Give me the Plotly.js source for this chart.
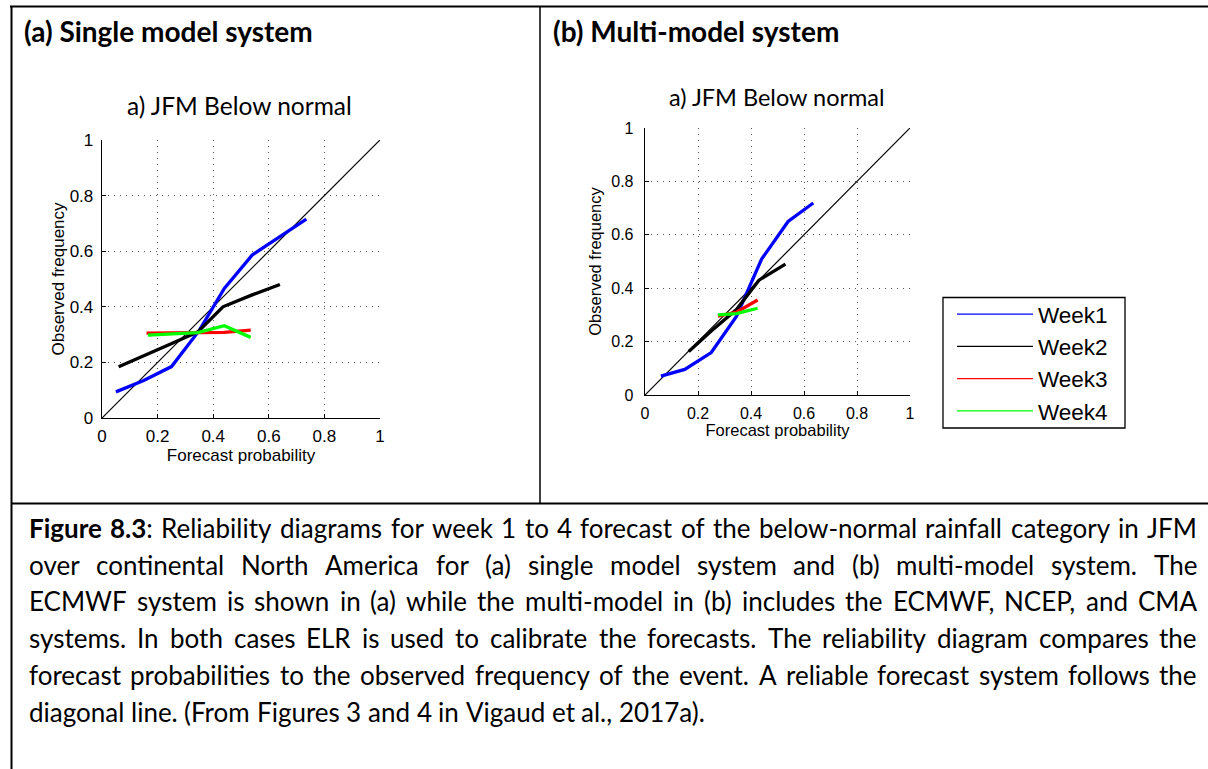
<!DOCTYPE html>
<html><head><meta charset="utf-8">
<script src="https://cdn.plot.ly/plotly-3.0.1.min.js"></script>
<style>html,body{margin:0;padding:0;background:#fff;} #chart{width:1208px;height:769px;}</style>
</head><body><div id="chart"></div>
<script>
// ---------- data ----------
const seriesNames = ['Week1', 'Week2', 'Week3', 'Week4'];
const seriesColors = ['#0000ff', '#000000', '#ff0000', '#00ff00'];

// panel (a) single model system
const aWeek1X = [0.05, 0.15, 0.25, 0.35, 0.44, 0.54, 0.64, 0.735];
const aWeek1Y = [0.094, 0.135, 0.185, 0.315, 0.466, 0.586, 0.652, 0.715];
const aWeek2X = [0.06, 0.15, 0.255, 0.345, 0.435, 0.54, 0.64];
const aWeek2Y = [0.184, 0.225, 0.27, 0.31, 0.40, 0.443, 0.48];
const aWeek3X = [0.16, 0.26, 0.35, 0.44, 0.535];
const aWeek3Y = [0.305, 0.307, 0.308, 0.308, 0.316];
const aWeek4X = [0.165, 0.26, 0.345, 0.44, 0.535];
const aWeek4Y = [0.298, 0.304, 0.307, 0.332, 0.29];

// panel (b) multi-model system
const bWeek1X = [0.06, 0.15, 0.25, 0.345, 0.44, 0.54, 0.635];
const bWeek1Y = [0.071, 0.096, 0.159, 0.294, 0.509, 0.65, 0.719];
const bWeek2X = [0.165, 0.25, 0.345, 0.43, 0.53];
const bWeek2Y = [0.163, 0.24, 0.32, 0.43, 0.49];
const bWeek3X = [0.275, 0.345, 0.425];
const bWeek3Y = [0.295, 0.31, 0.356];
const bWeek4X = [0.275, 0.345, 0.425];
const bWeek4Y = [0.30, 0.305, 0.325];

// perfect reliability diagonal
const diagX = [0, 1];
const diagY = [0, 1];

const tickVals = [0, 0.2, 0.4, 0.6, 0.8, 1];
const tickText = ['0', '0.2', '0.4', '0.6', '0.8', '1'];

const panelHeaders = ['(a) Single model system', '(b) Multi-model system'];
const panelTitle = 'a) JFM Below normal';
const xTitle = 'Forecast probability';
const yTitle = 'Observed frequency';

const captionBold = 'Figure 8.3';
const captionLines = [
  'Figure 8.3: Reliability diagrams for week 1 to 4 forecast of the below-normal rainfall category in JFM',
  'over continental North America for (a) single model system and (b) multi-model system. The',
  'ECMWF system is shown in (a) while the multi-model in (b) includes the ECMWF, NCEP, and CMA',
  'systems. In both cases ELR is used to calibrate the forecasts. The reliability diagram compares the',
  'forecast probabilities to the observed frequency of the event. A reliable forecast system follows the',
  'diagonal line. (From Figures 3 and 4 in Vigaud et al., 2017a).'
];

// ---------- layout helpers ----------
const W = 1208, H = 769;
const px = v => v / W;
const py = v => 1 - v / H;

const panelA = {x: [aWeek1X, aWeek2X, aWeek3X, aWeek4X], y: [aWeek1Y, aWeek2Y, aWeek3Y, aWeek4Y]};
const panelB = {x: [bWeek1X, bWeek2X, bWeek3X, bWeek4X], y: [bWeek1Y, bWeek2Y, bWeek3Y, bWeek4Y]};

const traces = [];
function addPanel(p, xa, ya) {
  traces.push({x: diagX, y: diagY, xaxis: xa, yaxis: ya, mode: 'lines',
    line: {color: '#000', width: 1.2}, showlegend: false, hoverinfo: 'skip'});
  for (let i = 0; i < 4; i++) {
    traces.push({x: p.x[i], y: p.y[i], xaxis: xa, yaxis: ya, mode: 'lines', name: seriesNames[i],
      line: {color: seriesColors[i], width: 3.3}, showlegend: false});
  }
}
addPanel(panelA, 'x', 'y');
addPanel(panelB, 'x2', 'y2');
// legend entries (thin lines, as in the reference legend)
for (let i = 0; i < 4; i++) {
  traces.push({x: [null], y: [null], xaxis: 'x2', yaxis: 'y2', mode: 'lines', name: seriesNames[i],
    line: {color: seriesColors[i], width: 1.2}, showlegend: true, hoverinfo: 'skip'});
}

const axFont = 'Liberation Sans, Arial, sans-serif';
function axis(domain, anchor, fs, tfs, titleText, standoff, lstand) {
  return {
    domain: domain, anchor: anchor, range: [0, 1], fixedrange: true,
    tickmode: 'array', tickvals: tickVals, ticktext: tickText,
    ticks: 'inside', ticklen: 4, tickcolor: '#000', tickwidth: 1,
    ticklabelstandoff: lstand,
    showline: true, linecolor: '#000', linewidth: 1.3, mirror: false,
    showgrid: true, gridcolor: '#555555', griddash: '1px,5px', gridwidth: 1,
    zeroline: false,
    tickfont: {family: axFont, size: fs, color: '#000'},
    title: {text: titleText, standoff: standoff,
      font: {family: axFont, size: tfs, color: '#000'}}
  };
}

const layout = {
  width: W, height: H,
  margin: {l: 0, r: 0, t: 0, b: 0},
  paper_bgcolor: '#fff', plot_bgcolor: 'rgba(0,0,0,0)',
  showlegend: true,
  xaxis: axis([px(102), px(380)], 'y', 17, 17, xTitle, 4, 2),
  yaxis: axis([py(418), py(140)], 'x', 17, 17, yTitle, 0, 4),
  xaxis2: axis([px(645), px(910)], 'y2', 16, 16.5, xTitle, 2, 3),
  yaxis2: axis([py(395), py(128)], 'x2', 16, 16.5, yTitle, 5, 7),
  legend: {
    x: px(952), y: py(293), xanchor: 'left', yanchor: 'top',
    borderwidth: 0, bgcolor: 'rgba(0,0,0,0)',
    font: {family: axFont, size: 22.5, color: '#000'},
    itemwidth: 76, tracegroupgap: 0
  },
  shapes: [
    {type: 'line', xref: 'paper', yref: 'paper', x0: px(10), x1: px(1208), y0: py(6.5), y1: py(6.5), line: {color: '#000', width: 2}},
    {type: 'line', xref: 'paper', yref: 'paper', x0: px(11.5), x1: px(11.5), y0: py(6), y1: py(769), line: {color: '#000', width: 2}},
    {type: 'line', xref: 'paper', yref: 'paper', x0: px(540), x1: px(540), y0: py(6), y1: py(503), line: {color: '#000', width: 1.5}},
    {type: 'line', xref: 'paper', yref: 'paper', x0: px(11), x1: px(1208), y0: py(503.5), y1: py(503.5), line: {color: '#000', width: 2}},
    // legend frame
    {type: 'rect', xref: 'paper', yref: 'paper', x0: px(943), x1: px(1125), y0: py(428), y1: py(297.5), line: {color: '#000', width: 1.3}, fillcolor: 'rgba(0,0,0,0)'}
  ],
  annotations: []
};

const ann = layout.annotations;
const base = {xref: 'paper', yref: 'paper', showarrow: false, borderpad: 0, borderwidth: 0};
ann.push(Object.assign({}, base, {x: px(24), y: py(31), xanchor: 'left', yanchor: 'middle',
  text: '<b>' + panelHeaders[0] + '</b>', font: {family: 'Lato', size: 28, color: '#000'}}));
ann.push(Object.assign({}, base, {x: px(553), y: py(31), xanchor: 'left', yanchor: 'middle',
  text: '<b>' + panelHeaders[1] + '</b>', font: {family: 'Lato', size: 28, color: '#000'}}));
ann.push(Object.assign({}, base, {x: px(240), y: py(105), xanchor: 'center', yanchor: 'middle',
  text: panelTitle, font: {family: 'Lato', size: 24.5, color: '#000'}}));
ann.push(Object.assign({}, base, {x: px(777), y: py(97), xanchor: 'center', yanchor: 'middle',
  text: panelTitle, font: {family: 'Lato', size: 23.5, color: '#000'}}));

// ---------- justified caption ----------
const ctx = document.createElement('canvas').getContext('2d');
function meas(t, bold, size) { ctx.font = (bold ? 'bold ' : '') + size + 'px Lato'; return ctx.measureText(t).width; }
const capLeft = 29, capRight = 1197;
const lastW = meas(captionLines[5], false, 100);
let capSize = 707 / lastW * 100;
capSize = Math.max(18, Math.min(26, capSize));
const capY = [528, 565, 601, 638, 675, 712];
captionLines.forEach((line, li) => {
  const words = line.split(' ');
  let pos = 0;
  const toks = words.map(w => {
    const bl = li === 0 ? Math.max(0, Math.min(w.length, captionBold.length - pos)) : 0;
    pos += w.length + 1;
    const b = w.slice(0, bl), r = w.slice(bl);
    const wd = (b ? meas(b, true, capSize) : 0) + (r ? meas(r, false, capSize) : 0);
    return {text: (b ? '<b>' + b + '</b>' : '') + r, w: wd};
  });
  const total = toks.reduce((s, t) => s + t.w, 0);
  const space = meas(' ', false, capSize);
  let gap = space;
  if (li < captionLines.length - 1) gap = (capRight - capLeft - total) / (toks.length - 1);
  let x = capLeft;
  toks.forEach(t => {
    ann.push(Object.assign({}, base, {x: px(x), y: py(capY[li]), xanchor: 'left', yanchor: 'middle',
      text: t.text, font: {family: 'Lato', size: capSize, color: '#000'}}));
    x += t.w + gap;
  });
});

Plotly.newPlot('chart', traces, layout, {displayModeBar: false, staticPlot: true});
</script>
</body></html>
